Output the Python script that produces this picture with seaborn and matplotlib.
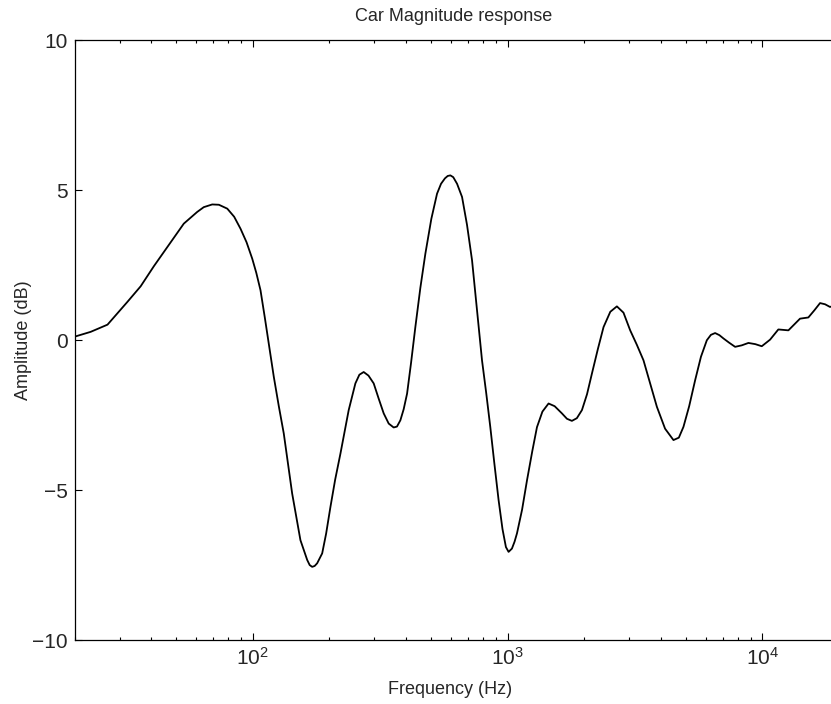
import matplotlib
matplotlib.use("Agg")
import matplotlib.pyplot as plt
import seaborn as sns
import pandas as pd
from matplotlib.ticker import LogLocator, FixedLocator, NullFormatter, LogFormatterSciNotation

# ---- data ----
freq_hz = [20, 23.1, 26.9, 32.2, 36.3, 40.9, 46.2, 53.6, 60.5, 64.2, 69.3, 73.6, 79.4,
           84.5, 89.5, 94.5, 99.5, 103.2, 107.2, 111.5, 116.6, 120.9, 126.5, 132.3, 142.7,
           153.8, 163.5, 167.2, 171.0, 174.9, 178.9, 187.2, 194.0, 201.7, 210.5, 220.8,
           237.9, 252.7, 262.0, 272.4, 284.5, 298.2, 312.0, 326.4, 341.5, 357.2, 368.0,
           379.5, 391.0, 403.2, 418.0, 434.5, 454.6, 475.7, 502.0, 528.6, 548.0, 567.6,
           582.0, 596.2, 612.0, 633.4, 662.6, 693.0, 725.2, 759.0, 793.6, 824.0, 855.2,
           887.0, 921.8, 955.0, 985.0, 1009, 1040, 1065, 1088.7, 1140, 1191.9, 1250, 1304,
           1370, 1448, 1530, 1634, 1710, 1788, 1870, 1958, 2050, 2143, 2260, 2380, 2530,
           2685, 2850, 3028, 3215, 3415, 3630, 3854, 4150, 4477, 4700, 4900, 5160, 5447,
           5740, 6053, 6280, 6524, 6780, 7034, 7400, 7816, 8300, 8813, 9380, 9945, 10720,
           11550, 12650, 14050, 15150, 16000, 16840, 17620, 18430, 19000]
amp_db = [0.12, 0.28, 0.52, 1.28, 1.80, 2.47, 3.11, 3.89, 4.28, 4.44, 4.53, 4.52, 4.39,
          4.12, 3.72, 3.27, 2.72, 2.25, 1.67, 0.75, -0.33, -1.22, -2.20, -3.11, -5.11,
          -6.67, -7.33, -7.50, -7.56, -7.53, -7.44, -7.11, -6.45, -5.56, -4.65, -3.78,
          -2.33, -1.44, -1.15, -1.06, -1.18, -1.44, -1.95, -2.44, -2.78, -2.91, -2.88,
          -2.67, -2.30, -1.78, -0.75, 0.44, 1.75, 2.89, 4.05, 4.89, 5.22, 5.40,
          5.48, 5.50, 5.44, 5.22, 4.78, 3.85, 2.67, 1.00, -0.67, -1.75, -2.89,
          -4.10, -5.33, -6.30, -6.90, -7.06, -6.95, -6.72, -6.44, -5.65, -4.67, -3.70, -2.90,
          -2.38, -2.11, -2.20, -2.44, -2.62, -2.69, -2.60, -2.33, -1.80, -1.11, -0.30, 0.44, 0.95,
          1.13, 0.92, 0.33, -0.15, -0.67, -1.45, -2.22, -2.95, -3.33, -3.25, -2.89, -2.20, -1.33,
          -0.55, 0.00, 0.18, 0.24, 0.17, 0.06, -0.08, -0.22, -0.17, -0.09, -0.13, -0.20, 0.02,
          0.36, 0.33, 0.72, 0.76, 1.00, 1.24, 1.20, 1.11, 1.15]

chart_title = "Car Magnitude response"
x_label = "Frequency (Hz)"
y_label = "Amplitude (dB)"
y_ticks = [-10, -5, 0, 5, 10]
x_limits = (20, 19000)
y_limits = (-10, 10)

# ---- style ----
sns.set_theme(style="white")
plt.rcParams['font.family'] = ['Liberation Sans', 'DejaVu Sans']
plt.rcParams['mathtext.default'] = 'regular'
plt.rcParams['axes.unicode_minus'] = True

fig = plt.figure(figsize=(8.31, 7.04), dpi=100)
fig.patch.set_facecolor("white")
ax = fig.add_axes([0.0899, 0.0909, 0.913, 0.8516])
ax.set_facecolor("white")

df = pd.DataFrame({"Frequency": freq_hz, "Amplitude": amp_db})
sns.lineplot(data=df, x="Frequency", y="Amplitude", ax=ax, color="black",
             linewidth=1.3, estimator=None, sort=False)

ax.set_xscale("log")
ax.set_xlim(*x_limits)
ax.set_ylim(*y_limits)
ax.xaxis.set_major_locator(LogLocator(base=10, numticks=10))
ax.xaxis.set_major_formatter(LogFormatterSciNotation())
ax.xaxis.set_minor_locator(LogLocator(base=10, subs=range(2, 10), numticks=20))
ax.xaxis.set_minor_formatter(NullFormatter())
ax.yaxis.set_major_locator(FixedLocator(y_ticks))
ax.grid(False)

for side in ["left", "bottom", "top"]:
    ax.spines[side].set_visible(True)
    ax.spines[side].set_color("black")
    ax.spines[side].set_linewidth(0.9)
ax.spines["right"].set_visible(False)

ax.tick_params(which="both", direction="in", top=True, bottom=True, left=True,
               right=False, color="black", width=0.8)
ax.tick_params(which="major", length=5, labelsize=15, pad=5)
ax.tick_params(which="minor", length=2.5)

ax.set_title(chart_title, fontsize=13, pad=14)
ax.set_xlabel(x_label, fontsize=13)
ax.set_ylabel(y_label, fontsize=13)
ax.xaxis.set_label_coords(0.495, -0.069)
ax.yaxis.set_label_coords(-0.056, 0.5)

fig.savefig("out.png", dpi=100)
